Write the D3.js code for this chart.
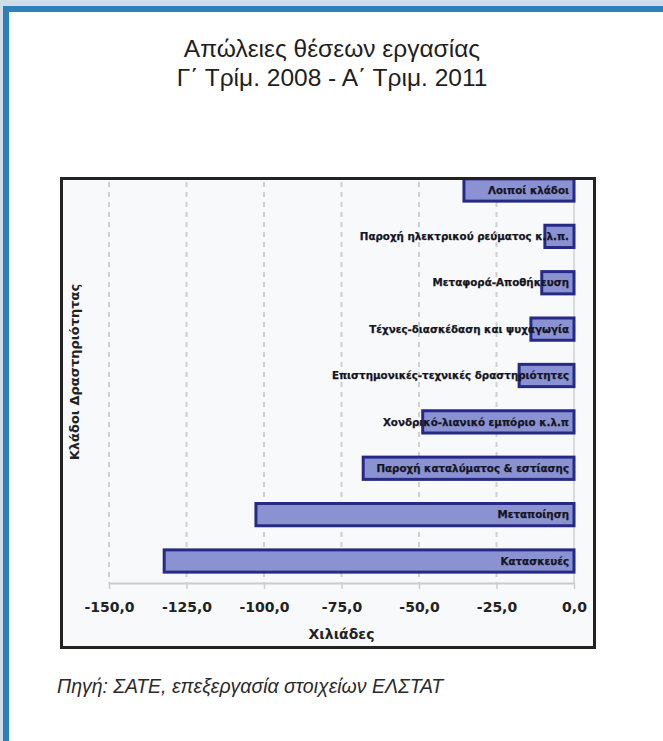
<!DOCTYPE html>
<html><head><meta charset="utf-8">
<script src="https://cdn.jsdelivr.net/npm/d3@7"></script>
<style>html,body{margin:0;padding:0;background:#fff;}</style>
</head><body>
<script>
const categories = [
  "Λοιποί κλάδοι",
  "Παροχή ηλεκτρικού ρεύματος κ.λ.π.",
  "Μεταφορά-Αποθήκευση",
  "Τέχνες-διασκέδαση και ψυχαγωγία",
  "Επιστημονικές-τεχνικές δραστηριότητες",
  "Χονδρικό-λιανικό εμπόριο κ.λ.π",
  "Παροχή καταλύματος & εστίασης",
  "Μεταποίηση",
  "Κατασκευές"
];
const values = [-35.5, -9.4, -10.4, -13.9, -17.7, -48.8, -68.0, -102.6, -132.2];
const tickValues = [-150, -125, -100, -75, -50, -25, 0];
const tickLabels = ["-150,0", "-125,0", "-100,0", "-75,0", "-50,0", "-25,0", "0,0"];
const titleLines = ["Απώλειες θέσεων εργασίας", "Γ΄ Τρίμ. 2008 - Α΄ Τριμ. 2011"];
const xTitle = "Χιλιάδες";
const yTitle = "Κλάδοι Δραστηριότητας";
const source = "Πηγή: ΣΑΤΕ, επεξεργασία στοιχείων ΕΛΣΤΑΤ";

const W = 663, H = 741;
const svg = d3.select("body").append("svg").attr("width", W).attr("height", H);

// page background and border
svg.append("rect").attr("width", W).attr("height", H).attr("fill", "#d2dcea");
svg.append("rect").attr("x", 3).attr("y", 6).attr("width", W).attr("height", H).attr("fill", "#2e80b9");
svg.append("rect").attr("x", 9).attr("y", 12).attr("width", W).attr("height", H).attr("fill", "#ffffff");

// title
const tfont = "'Liberation Sans Narrow', 'Liberation Sans', sans-serif";
svg.append("text").attr("x", 332).attr("y", 57).attr("text-anchor", "middle")
  .attr("font-family", tfont).attr("font-size", 24.5).attr("fill", "#1e1e1e").text(titleLines[0]);
svg.append("text").attr("x", 332).attr("y", 86).attr("text-anchor", "middle")
  .attr("font-family", tfont).attr("font-size", 24.5).attr("fill", "#1e1e1e").text(titleLines[1]);

// chart frame
svg.append("rect").attr("x", 61.5).attr("y", 178.5).attr("width", 533).attr("height", 469)
  .attr("fill", "#f7f9fa").attr("stroke", "#232323").attr("stroke-width", 3);

const plot = {left: 109, right: 574, top: 180, bottom: 583};
const x = d3.scaleLinear().domain([-150, 0]).range([plot.left, plot.right]);
const y = d3.scaleBand().domain(categories).range([166.8, 584.2]).paddingInner(0.52).paddingOuter(0.26);

svg.append("defs").append("clipPath").attr("id", "pc").append("rect")
  .attr("x", plot.left - 5).attr("y", plot.top).attr("width", plot.right - plot.left + 10).attr("height", plot.bottom - plot.top);

// gridlines
const g = svg.append("g");
g.selectAll("line.grid").data(tickValues.filter(v => v !== 0)).enter().append("line")
  .attr("x1", d => x(d)).attr("x2", d => x(d)).attr("y1", plot.top + 2).attr("y2", plot.bottom)
  .attr("stroke", "#cfcfcf").attr("stroke-width", 2).attr("stroke-dasharray", "5,5");
g.append("line").attr("x1", x(0)).attr("x2", x(0)).attr("y1", plot.top + 2).attr("y2", plot.bottom)
  .attr("stroke", "#cfcfcf").attr("stroke-width", 1.5);

// x axis
const xAxis = d3.axisBottom(x).tickValues(tickValues).tickSize(6).tickSizeOuter(0)
  .tickFormat((d, i) => tickLabels[i]);
const ax = svg.append("g").attr("transform", `translate(0,${plot.bottom})`).call(xAxis);
ax.select(".domain").attr("stroke", "#cccccc").attr("stroke-width", 2);
ax.selectAll(".tick line").attr("stroke", "#cccccc").attr("stroke-width", 1.5);
ax.selectAll(".tick text").attr("font-family", "'DejaVu Sans', sans-serif").attr("font-weight", "bold")
  .attr("font-size", 14).attr("fill", "#222").attr("y", 29).attr("dy", "0");

// bars
const bars = svg.append("g").attr("clip-path", "url(#pc)");
bars.selectAll("rect").data(categories).enter().append("rect")
  .attr("x", (d, i) => x(values[i])).attr("y", d => y(d))
  .attr("width", (d, i) => x(0) - x(values[i])).attr("height", y.bandwidth())
  .attr("fill", "#8a92d2").attr("stroke", "#262a86").attr("stroke-width", 3);

// bar labels
svg.append("g").selectAll("text").data(categories).enter().append("text")
  .attr("x", x(0) - 5).attr("y", d => y(d) + y.bandwidth() / 2).attr("dy", "0.36em")
  .attr("text-anchor", "end").attr("font-family", "'DejaVu Sans', sans-serif")
  .attr("font-weight", "bold").attr("font-size", 10.3).attr("fill", "#15151f")
  .attr("stroke", "#15151f").attr("stroke-width", 0.25).text(d => d);

// axis titles
svg.append("text").attr("x", (plot.left + plot.right) / 2).attr("y", 639).attr("text-anchor", "middle")
  .attr("font-family", "'DejaVu Sans', sans-serif").attr("font-weight", "bold").attr("font-size", 14)
  .attr("fill", "#222").text(xTitle);
svg.append("text").attr("transform", "translate(79,372) rotate(-90)").attr("text-anchor", "middle")
  .attr("font-family", "'DejaVu Sans', sans-serif").attr("font-weight", "bold").attr("font-size", 13)
  .attr("fill", "#222").text(yTitle);

// source
svg.append("text").attr("x", 57).attr("y", 693)
  .attr("font-family", tfont).attr("font-style", "italic").attr("font-size", 19.5)
  .attr("fill", "#2a2a2a").text(source);
</script>
</body></html>
